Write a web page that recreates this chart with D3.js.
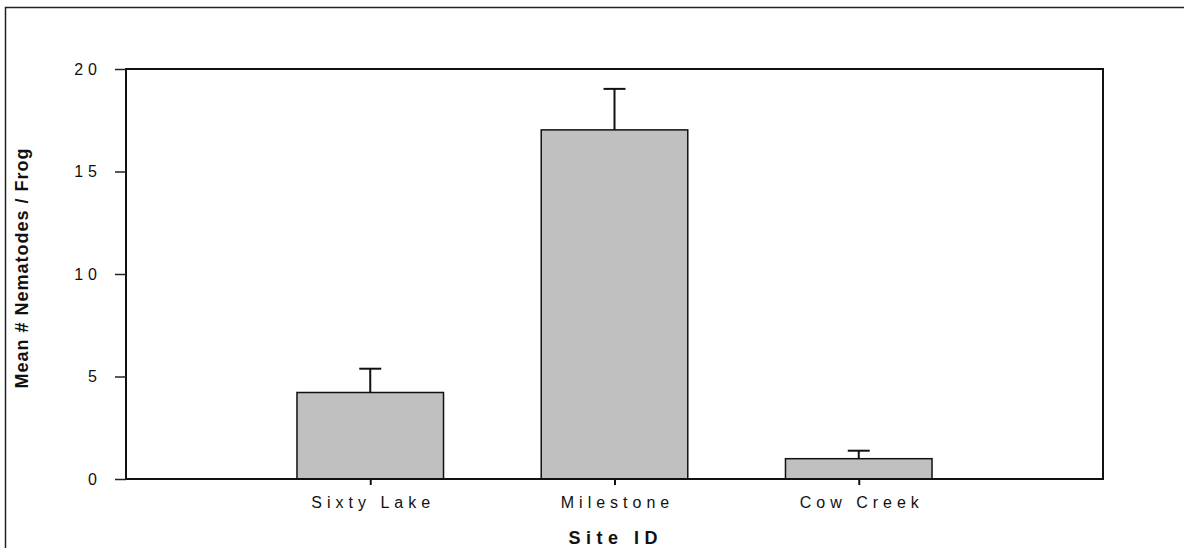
<!DOCTYPE html>
<html>
<head>
<meta charset="utf-8">
<script src="https://cdn.jsdelivr.net/npm/d3@7/dist/d3.min.js"></script>
<style>
  html, body { margin: 0; padding: 0; background: #fff; }
  svg { display: block; font-family: Arial, "Liberation Sans", sans-serif; }
</style>
</head>
<body>
<svg id="chart" width="1184" height="548"></svg>
<script>
// Site names along the x axis
const sites = ["Sixty Lake", "Milestone", "Cow Creek"];
// Mean number of nematodes per frog at each site
const meanNematodes = [4.22, 17.03, 0.99];
// Upper error (standard error) added on top of each mean
const errorUpper = [1.16, 2.0, 0.39];
// Y axis tick values
const yTicks = [0, 5, 10, 15, 20];

const svg = d3.select("#chart");
const plot = { left: 126, right: 1103, top: 69, bottom: 479 };

// Outer figure frame (runs off the right and bottom edges)
svg.append("rect")
  .attr("x", 5.5).attr("y", 7.5)
  .attr("width", 1200).attr("height", 600)
  .attr("fill", "none").attr("stroke", "#222").attr("stroke-width", 1.5);

const x = d3.scalePoint()
  .domain(sites)
  .range([plot.left, plot.right])
  .padding(1);

const y = d3.scaleLinear()
  .domain([0, 20])
  .range([plot.bottom, plot.top]);

const barWidth = x.step() * 0.6;

// Bars
svg.append("g").selectAll("rect")
  .data(sites)
  .join("rect")
  .attr("x", d => x(d) - barWidth / 2)
  .attr("y", (d, i) => y(meanNematodes[i]))
  .attr("width", barWidth)
  .attr("height", (d, i) => y(0) - y(meanNematodes[i]))
  .attr("fill", "#c0c0c0")
  .attr("stroke", "#111")
  .attr("stroke-width", 1.5);

// Error bars (upper only)
const capHalf = 11;
const err = svg.append("g").attr("stroke", "#111").attr("stroke-width", 2);
sites.forEach((s, i) => {
  const top = y(meanNematodes[i] + errorUpper[i]);
  err.append("line")
    .attr("x1", x(s)).attr("x2", x(s))
    .attr("y1", y(meanNematodes[i])).attr("y2", top);
  err.append("line")
    .attr("x1", x(s) - capHalf).attr("x2", x(s) + capHalf)
    .attr("y1", top).attr("y2", top);
});

// Plot frame
svg.append("rect")
  .attr("x", plot.left).attr("y", plot.top)
  .attr("width", plot.right - plot.left)
  .attr("height", plot.bottom - plot.top)
  .attr("fill", "none").attr("stroke", "#111").attr("stroke-width", 2);

// Y axis
const yAxis = svg.append("g")
  .attr("transform", `translate(${plot.left},0)`)
  .call(d3.axisLeft(y).tickValues(yTicks).tickSize(11).tickPadding(16)
    .tickFormat(d3.format("d")));
yAxis.select(".domain").remove();
yAxis.selectAll(".tick line").attr("stroke", "#222").attr("stroke-width", 1.5);
yAxis.selectAll(".tick text")
  .attr("fill", "#111")
  .style("font-size", "16px")
  .style("letter-spacing", "5px")
  .attr("dx", "3px")
  .attr("font-family", null);

// X axis
const xAxis = svg.append("g")
  .attr("transform", `translate(0,${plot.bottom})`)
  .call(d3.axisBottom(x).tickSize(6).tickPadding(12));
xAxis.select(".domain").remove();
xAxis.selectAll(".tick line").attr("stroke", "#111").attr("stroke-width", 2);
xAxis.selectAll(".tick text")
  .attr("fill", "#111")
  .style("font-size", "16px")
  .style("letter-spacing", "5px")
  .attr("dx", "2.5px")
  .attr("font-family", null);

// Axis titles
svg.append("text")
  .attr("x", 613).attr("y", 544)
  .attr("text-anchor", "middle")
  .style("font-size", "18px").style("font-weight", "bold")
  .style("letter-spacing", "5.5px")
  .attr("dx", "2.75px")
  .attr("fill", "#111")
  .text("Site ID");

svg.append("text")
  .attr("transform", "translate(28,268) rotate(-90)")
  .attr("text-anchor", "middle")
  .style("font-size", "18px").style("font-weight", "bold")
  .style("letter-spacing", "1px")
  .attr("fill", "#111")
  .text("Mean # Nematodes / Frog");
</script>
</body>
</html>
